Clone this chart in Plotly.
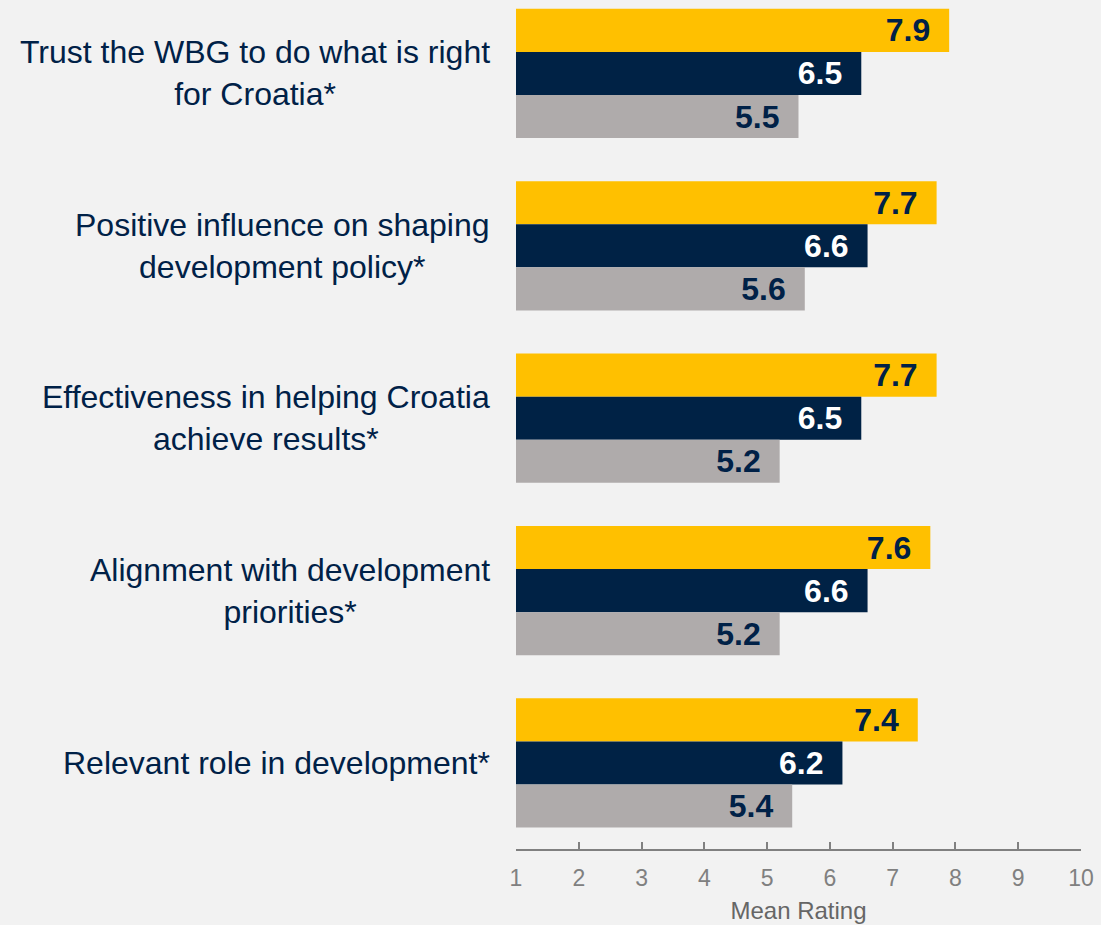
import plotly.graph_objects as go

# survey items (top to bottom)
categories = [
    "Trust the WBG to do what is right<br>for Croatia*",
    "Positive influence on shaping<br>development policy*",
    "Effectiveness in helping Croatia<br>achieve results*",
    "Alignment with development<br>priorities*",
    "Relevant role in development*",
]
keys = ["c1", "c2", "c3", "c4", "c5"]

# mean ratings per series
yellow_vals = [7.9, 7.7, 7.7, 7.6, 7.4]
navy_vals = [6.5, 6.6, 6.5, 6.6, 6.2]
gray_vals = [5.5, 5.6, 5.2, 5.2, 5.4]

x_ticks = [1, 2, 3, 4, 5, 6, 7, 8, 9, 10]

NAVY = "#002147"
FONT = "Arial, Liberation Sans, sans-serif"

fig = go.Figure()
series = [
    (yellow_vals, "#FFC000", NAVY),
    (navy_vals, "#002245", "white"),
    (gray_vals, "#AFABAB", NAVY),
]
for vals, color, txtcol in series:
    fig.add_trace(go.Bar(
        y=keys, x=vals, orientation="h",
        marker=dict(color=color, line=dict(width=0)),
        text=[f"{v:.1f}\u2002" for v in vals],
        textposition="inside",
        insidetextanchor="end",
        textfont=dict(family=FONT, size=32, color=txtcol, weight="bold"),
        constraintext="none",
        showlegend=False,
        hoverinfo="skip",
    ))

# category labels: right-aligned block, centred lines
for k, label in zip(keys, categories):
    fig.add_annotation(
        x=0, xref="paper", y=k, yref="y",
        text=label, showarrow=False,
        xanchor="right", align="center", xshift=-24,
        font=dict(family=FONT, size=32, color=NAVY),
    )

fig.update_layout(
    width=1101, height=925,
    margin=dict(l=516, r=20, t=0, b=76),
    paper_bgcolor="#F2F2F2", plot_bgcolor="#F2F2F2",
    barmode="group", bargap=0.25, bargroupgap=0,
    font=dict(family=FONT),
)
fig.update_xaxes(
    range=[1, 10], tickvals=x_ticks,
    showgrid=False, zeroline=False,
    showline=True, linecolor="#808080", linewidth=2,
    ticks="inside", ticklen=7, tickwidth=2, tickcolor="#808080",
    tickfont=dict(family=FONT, size=23, color="#808080"),
    ticklabelstandoff=7,
    title=dict(text="Mean Rating", font=dict(family=FONT, size=24, color="#666666"), standoff=13),
    automargin=False,
)
fig.update_yaxes(
    type="category", categoryarray=keys,
    range=[4.499, -0.426],
    showticklabels=False, showgrid=False, zeroline=False, showline=False,
)

fig.write_html("out.html", config={"displayModeBar": False},
               post_script="document.body.style.margin='0';")
